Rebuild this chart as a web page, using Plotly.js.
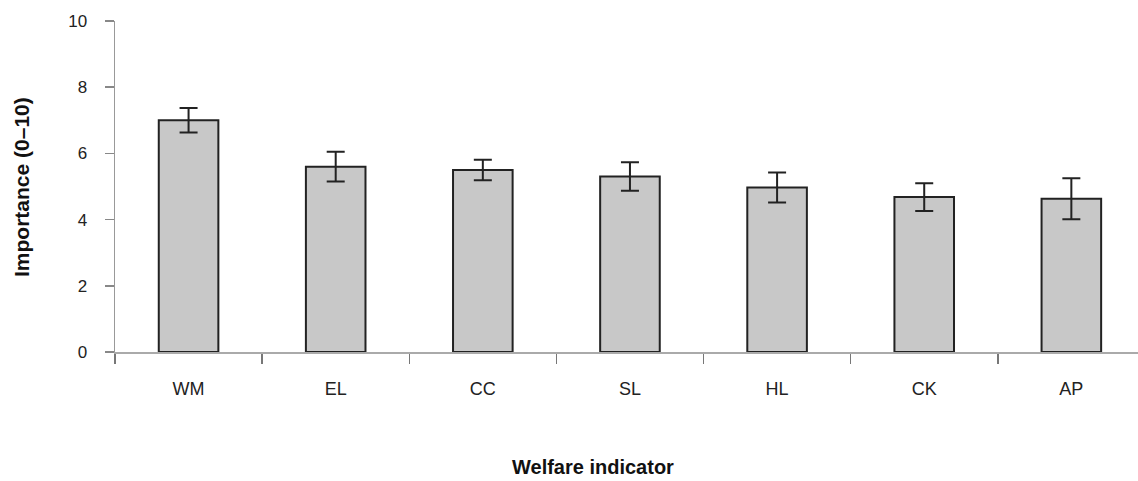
<!DOCTYPE html>
<html>
<head>
<meta charset="utf-8">
<script src="https://cdn.plot.ly/plotly-3.0.1.min.js"></script>
<style>
  html, body { margin: 0; padding: 0; background: #fff; }
  #chart { width: 1138px; height: 481px; }
</style>
</head>
<body>
<div id="chart"></div>
<script>
const categories = ["WM", "EL", "CC", "SL", "HL", "CK", "AP"];
const importance = [7.0, 5.6, 5.5, 5.3, 4.97, 4.68, 4.63];
const errors = [0.37, 0.45, 0.31, 0.43, 0.45, 0.42, 0.62];
const yTicks = [0, 2, 4, 6, 8, 10];
const xTitle = "Welfare indicator";
const yTitle = "Importance (0–10)";

const trace = {
  type: "bar",
  x: categories,
  y: importance,
  width: 0.405,
  marker: { color: "#c8c8c8", line: { color: "#222222", width: 2 } },
  error_y: { type: "data", array: errors, visible: true, color: "#222222", thickness: 2, width: 9 },
  hoverinfo: "none"
};

const titleFont = { size: 20, color: "#111111", family: "Liberation Sans, Arial, sans-serif", weight: "bold" };

const layout = {
  width: 1138,
  height: 481,
  autosize: false,
  paper_bgcolor: "#ffffff",
  plot_bgcolor: "#ffffff",
  margin: { l: 114.5, r: 0, t: 21, b: 129, pad: 0 },
  showlegend: false,
  font: { family: "Liberation Sans, Arial, sans-serif", color: "#222222" },
  xaxis: {
    type: "category",
    range: [-0.5, 6.453],
    showline: true,
    linecolor: "#aaaaaa",
    linewidth: 1.5,
    ticks: "outside",
    tickson: "boundaries",
    ticklen: 10,
    tickwidth: 1.5,
    tickcolor: "#777777",
    showgrid: false,
    zeroline: false,
    ticklabelstandoff: 20,
    tickfont: { size: 18, color: "#222222" },
    automargin: false
  },
  yaxis: {
    range: [0, 10],
    tickvals: yTicks,
    ticktext: yTicks.map(String),
    showline: true,
    linecolor: "#999999",
    linewidth: 1.5,
    ticks: "outside",
    ticklen: 9,
    tickwidth: 1.5,
    tickcolor: "#888888",
    showgrid: false,
    zeroline: false,
    ticklabelstandoff: 14,
    tickfont: { size: 17, color: "#222222" },
    automargin: false
  },
  annotations: [
    { text: xTitle, xref: "paper", yref: "paper", x: 0.4675, y: -0.347, xanchor: "center", yanchor: "middle", showarrow: false, font: titleFont },
    { text: yTitle, xref: "paper", yref: "paper", x: -0.0914, y: 0.5, xanchor: "center", yanchor: "middle", textangle: -90, showarrow: false, font: { size: 21, color: "#111111", family: "Liberation Sans, Arial, sans-serif", weight: "bold" } }
  ]
};

Plotly.newPlot("chart", [trace], layout, { displayModeBar: false, staticPlot: true });
</script>
</body>
</html>
